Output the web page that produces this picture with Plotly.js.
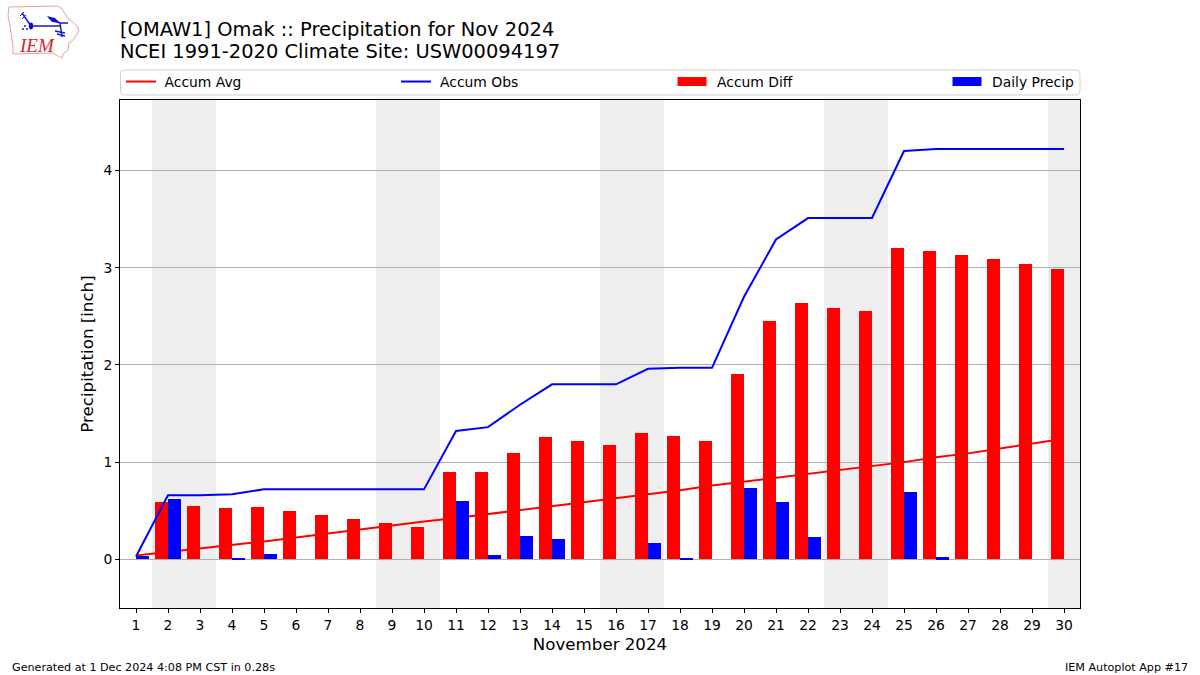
<!DOCTYPE html>
<html><head><meta charset="utf-8">
<script src="https://cdn.plot.ly/plotly-3.0.1.min.js"></script>
<style>html,body{margin:0;padding:0;background:#fff}#c{width:1200px;height:675px}
.legendtext{transform:translate(3.5px,0)}
.legend2text{transform:translate(4px,0)}
.legend3text,.legend4text{transform:translate(5px,0)}</style>
</head><body><div id="c"></div>
<script>
const days=[1,2,3,4,5,6,7,8,9,10,11,12,13,14,15,16,17,18,19,20,21,22,23,24,25,26,27,28,29,30];
const accumAvg=[0.04,0.075,0.115,0.15,0.185,0.226,0.268,0.31,0.35,0.39,0.425,0.465,0.505,0.55,0.59,0.63,0.67,0.71,0.76,0.80,0.84,0.88,0.92,0.96,1.00,1.05,1.09,1.14,1.19,1.24];
const accumObs=[0.03,0.66,0.66,0.67,0.72,0.72,0.72,0.72,0.72,0.72,1.32,1.36,1.59,1.80,1.80,1.80,1.96,1.97,1.97,2.70,3.29,3.51,3.51,3.51,4.20,4.22,4.22,4.22,4.22,4.22];
const accumDiff=[0,0.586,0.545,0.524,0.535,0.494,0.452,0.411,0.37,0.329,0.895,0.895,1.09,1.26,1.213,1.172,1.30,1.27,1.22,1.91,2.45,2.64,2.59,2.55,3.20,3.17,3.13,3.09,3.04,2.99];
const dailyPrecip=[0.03,0.62,0,0.01,0.055,0,0,0,0,0,0.60,0.04,0.24,0.21,0,0,0.17,0.01,0,0.73,0.59,0.23,0,0,0.69,0.02,0,0,0,0];
const weekendBands=[[1.5,3.5],[8.5,10.5],[15.5,17.5],[22.5,24.5],[29.5,30.5]];
const yTicks=[0,1,2,3,4];
const yRange=[-0.5,4.724];
const titleLine1='[OMAW1] Omak :: Precipitation for Nov 2024';
const titleLine2='NCEI 1991-2020 Climate Site: USW00094197';
const font='"DejaVu Sans", sans-serif';
const W=1200,H=675,L=120,R=1080,T=100,B=608;
const px=v=>(v-L)/(R-L), py=v=>(B-v)/(B-T);
const logoSvg=`<svg xmlns="http://www.w3.org/2000/svg" width="80" height="58" viewBox="0 0 80 58">
<path d="M4 4 L53 3 L56 5 L63 15 L72 23 L74 28 L68 37 L64 40 L63 47 L58 51 L57 55 L53 53 L48 50 L8 51 L8 43 L5 23 L3 13 Z" fill="#fff" stroke="#e8a0a0" stroke-width="1"/>
<path d="M26 23 L55 23 M17 10 L26 23 M44 15 L55 20 L63 20 M55 20 L57 34" fill="none" stroke="#1818d8" stroke-width="1.5"/>
<path d="M15 13 L19 9 M17 16 L21 12" fill="none" stroke="#1818d8" stroke-width="1"/>
<ellipse cx="26" cy="23" rx="2.2" ry="3.4" fill="#1010c8"/>
<path d="M42 13 L50 15 L55 20 L47 19 Z" fill="#1010c8"/>
<path d="M50 28 L60 30 M52 31 L60 33" stroke="#1818d8" stroke-width="1.3" fill="none"/>
<circle cx="18" cy="26" r="1" fill="#1818d8"/><circle cx="22" cy="26" r="1" fill="#1818d8"/><circle cx="20" cy="23" r="1" fill="#1818d8"/>
</svg>`;
const logoUri='data:image/svg+xml;charset=utf-8,'+encodeURIComponent(logoSvg);
const r=4,lx0=120.5,lx1=1080,ly0=70,ly1=95;
const legendBox=`M ${px(lx0+r)} ${py(ly0)} L ${px(lx1-r)} ${py(ly0)} Q ${px(lx1)} ${py(ly0)} ${px(lx1)} ${py(ly0+r)} L ${px(lx1)} ${py(ly1-r)} Q ${px(lx1)} ${py(ly1)} ${px(lx1-r)} ${py(ly1)} L ${px(lx0+r)} ${py(ly1)} Q ${px(lx0)} ${py(ly1)} ${px(lx0)} ${py(ly1-r)} L ${px(lx0)} ${py(ly0+r)} Q ${px(lx0)} ${py(ly0)} ${px(lx0+r)} ${py(ly0)} Z`;
const traces=[
 {type:'scatter',mode:'lines',name:'Accum Avg',x:days,y:accumAvg,line:{color:'#ff0000',width:2},legend:'legend'},
 {type:'scatter',mode:'lines',name:'Accum Obs',x:days,y:accumObs,yaxis:'y2',line:{color:'#0000ff',width:2},legend:'legend2'},
 {type:'bar',name:'Accum Diff',x:days,y:accumDiff,yaxis:'y2',width:0.4,offset:-0.4,marker:{color:'#ff0000',line:{width:0}},legend:'legend3'},
 {type:'bar',name:'Daily Precip',x:days,y:dailyPrecip,yaxis:'y2',width:0.4,offset:0,marker:{color:'#0000ff',line:{width:0}},legend:'legend4'}
];
const shapes=weekendBands.map(b=>({type:'rect',xref:'x',yref:'paper',x0:b[0],x1:b[1],y0:0,y1:1,fillcolor:'#eeeeee',line:{width:0},layer:'below'}));
shapes.push({type:'path',xref:'paper',yref:'paper',path:legendBox,line:{color:'#d0d0d0',width:1},fillcolor:'rgba(0,0,0,0)',layer:'above'});
const legendAt=left=>({orientation:'h',x:px(left),xanchor:'left',y:py(66),yanchor:'top',bgcolor:'rgba(0,0,0,0)',borderwidth:0,
  font:{family:font,size:13.89,color:'#000'},itemclick:false,itemdoubleclick:false});
const layout={
 width:W,height:H,paper_bgcolor:'#fff',plot_bgcolor:'#fff',font:{family:font,color:'#000',size:13},
 margin:{l:L,r:W-R,t:T,b:H-B,pad:0},
 title:{text:titleLine1,x:120/W,xanchor:'left',y:1-29/H,yanchor:'middle',font:{family:font,size:19.44,color:'#000'}},
 barmode:'overlay',bargap:0,showlegend:true,
 legend:legendAt(121),legend2:legendAt(396),legend3:legendAt(672),legend4:legendAt(947),
 xaxis:{range:[0.5,30.5],tickmode:'array',tickvals:days,ticktext:days.map(String),ticks:'outside',ticklen:4,tickwidth:1,tickcolor:'#000',
  showgrid:false,zeroline:false,showline:true,mirror:true,linecolor:'#000',linewidth:1,tickangle:0,tickfont:{size:13.89},
  title:{text:'November 2024',font:{size:16.67},standoff:6}},
 yaxis:{range:yRange,tickmode:'array',tickvals:yTicks,ticktext:yTicks.map(String),ticks:'outside',ticklen:4,tickwidth:1,tickcolor:'#000',
  showgrid:true,gridcolor:'#b0b0b0',gridwidth:1,zeroline:false,showline:true,mirror:true,linecolor:'#000',linewidth:1,tickfont:{size:13.89},
  title:{text:'Precipitation [inch]',font:{size:16.67},standoff:5}},
 yaxis2:{range:yRange,overlaying:'y',side:'left',visible:false,showgrid:false,zeroline:false},
 shapes:shapes,
 images:[{source:logoUri,xref:'paper',yref:'paper',x:px(5),y:py(3),sizex:80/(R-L),sizey:58/(B-T),xanchor:'left',yanchor:'top',sizing:'stretch',layer:'above'}],
 annotations:[
  {text:titleLine2,xref:'paper',yref:'paper',x:px(120),y:py(52),xanchor:'left',yanchor:'middle',showarrow:false,xshift:-2,font:{family:font,size:19.44,color:'#000'}},
  {text:'<i>IEM</i>',xref:'paper',yref:'paper',x:px(17),y:py(46),xanchor:'left',yanchor:'middle',showarrow:false,font:{family:'"Liberation Serif", serif',size:19,color:'#d8252b'}},
  {text:'Generated at 1 Dec 2024 4:08 PM CST in 0.28s',xref:'paper',yref:'paper',x:px(10),y:py(667.5),xanchor:'left',yanchor:'middle',showarrow:false,font:{size:11.15,color:'#000'}},
  {text:'IEM Autoplot App #17',xref:'paper',yref:'paper',x:px(1190),y:py(667.5),xanchor:'right',yanchor:'middle',showarrow:false,font:{size:11.15,color:'#000'}}
 ]
};
Plotly.newPlot('c',traces,layout,{displayModeBar:false,responsive:false}).then(gd=>{
 gd.querySelectorAll('.legendpoints path').forEach(p=>{
  if((p.getAttribute('d')||'').startsWith('M6,6')) p.setAttribute('d','M14.5,4.5H-14.5V-4.5H14.5Z');
 });
 gd.querySelectorAll('.scrollbox').forEach(s=>{s.removeAttribute('clip-path');});
});
</script></body></html>
